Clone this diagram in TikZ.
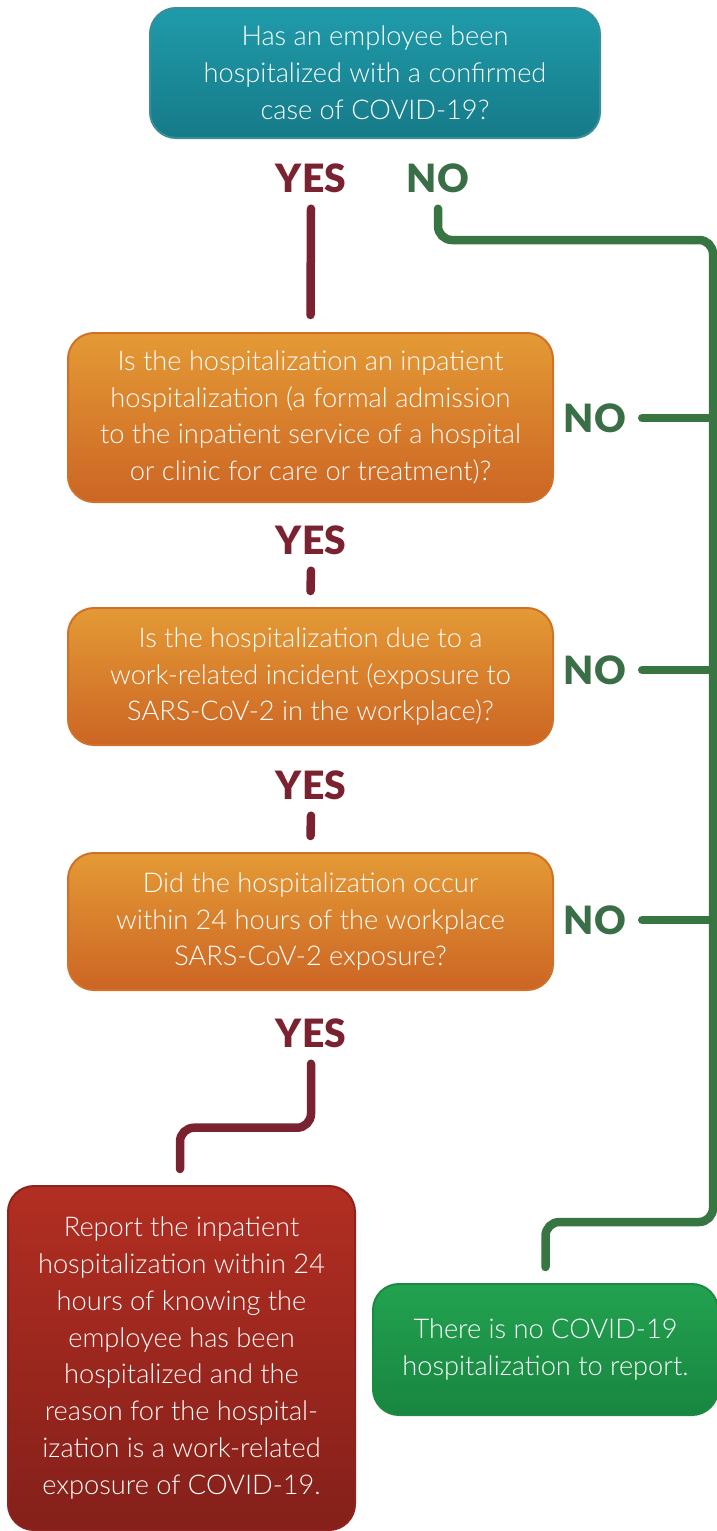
\documentclass[tikz,border=0pt]{standalone}
\usepackage{fontspec}
\setmainfont{Lato Light}
\newfontfamily\lblfont{Lato Black}
\usetikzlibrary{calc}
\definecolor{yescol}{HTML}{7A2230}
\definecolor{nocol}{HTML}{3A6E47}
\definecolor{tealT}{HTML}{1F9BAA}
\definecolor{tealB}{HTML}{167A88}
\definecolor{oraT}{HTML}{E49A35}
\definecolor{oraB}{HTML}{CC6524}
\definecolor{redT}{HTML}{B22E22}
\definecolor{redB}{HTML}{84201A}
\definecolor{grnT}{HTML}{22A250}
\definecolor{grnB}{HTML}{198540}
\tikzset{
  x=1pt, y=-1pt,
  boxbase/.style={rectangle, rounded corners=26pt, align=center, text=white,
    font=\fontsize{27.2}{36.8}\selectfont, inner sep=0pt, line width=2pt},
  tealbox/.style={boxbase, top color=tealT, bottom color=tealB, draw=tealB!85!white},
  orabox/.style={boxbase, top color=oraT, bottom color=oraB, draw=oraB!80!oraT},
  redbox/.style={boxbase, top color=redT, bottom color=redB, draw=redB!80!redT},
  grnbox/.style={boxbase, top color=grnT, bottom color=grnB, draw=grnB!80!grnT},
  yeslbl/.style={text=yescol, font=\lblfont\fontsize{39}{39}\selectfont, inner sep=0pt},
  nolbl/.style={text=nocol, font=\lblfont\fontsize{39}{39}\selectfont, inner sep=0pt},
  yesline/.style={draw=yescol, line width=8.5pt, line cap=round, rounded corners=14pt},
  noline/.style={draw=nocol!95!green, line width=8.5pt, line cap=round, rounded corners=14pt},
}
\begin{document}
\begin{tikzpicture}
\useasboundingbox (0,0) rectangle (716,1531);
% boxes
\node[tealbox, minimum width=450pt, minimum height=130pt] (q1) at (375,73)
  {Has an employee been\\hospitalized with a confirmed\\case of COVID-19?};
\node[orabox, minimum width=485pt, minimum height=169pt] (q2) at (310.5,417.5)
  {Is the hospitalization an inpatient\\hospitalization (a formal admission\\to the inpatient service of a hospital\\or clinic for care or treatment)?};
\node[orabox, minimum width=485pt, minimum height=137pt] (q3) at (310.5,676.5)
  {Is the hospitalization due to a\\work-related incident (exposure to\\SARS-CoV-2 in the workplace)?};
\node[orabox, minimum width=485pt, minimum height=137pt] (q4) at (310.5,921.5)
  {Did the hospitalization occur\\within 24 hours of the workplace\\SARS-CoV-2 exposure?};
\node[redbox, minimum width=347pt, minimum height=344pt] (rep) at (181.5,1358)
  {Report the inpatient\\hospitalization within 24\\hours of knowing the\\employee has been\\hospitalized and the\\reason for the hospital-\\ization is a work-related\\exposure of COVID-19.};
\node[grnbox, minimum width=345pt, minimum height=131pt] (none) at (545.5,1349.5)
  {There is no COVID-19\\hospitalization to report.};
% labels
\node[yeslbl] (y1) at (311,178) {YES};
\node[nolbl]  (n1) at (438,178) {NO};
\node[yeslbl] (y2) at (311,540) {YES};
\node[nolbl]  (n2) at (595,418) {NO};
\node[yeslbl] (y3) at (311,785) {YES};
\node[nolbl]  (n3) at (595,670) {NO};
\node[yeslbl] (y4) at (311,1033) {YES};
\node[nolbl]  (n4) at (595,920) {NO};
% rail coordinates
\coordinate (railtop) at (713,240);
\coordinate (railbot) at (713,1222);
% yes connectors
\draw[yesline] ($(y1.south)+(0,16)$) -- ($(q2.north)+(0,-17)$);
\draw[yesline] ($(y2.south)+(0,16)$) -- ($(q3.north)+(0,-16)$);
\draw[yesline] ($(y3.south)+(0,16)$) -- ($(q4.north)+(0,-16)$);
\draw[yesline] ($(y4.south)+(0,16)$) -- ++(0,64) -| ($(rep.north)+(-1.5,-16)$);
% no connectors
\draw[noline] ($(n1.south)+(0,16)$) |- (railtop) -- (railbot) -| ($(none.north)+(0,-16)$);
\draw[noline] ($(n2.east)+(16,0)$) -- (n2.east -| railtop);
\draw[noline] ($(n3.east)+(16,0)$) -- (n3.east -| railtop);
\draw[noline] ($(n4.east)+(16,0)$) -- (n4.east -| railtop);
\end{tikzpicture}
\end{document}
